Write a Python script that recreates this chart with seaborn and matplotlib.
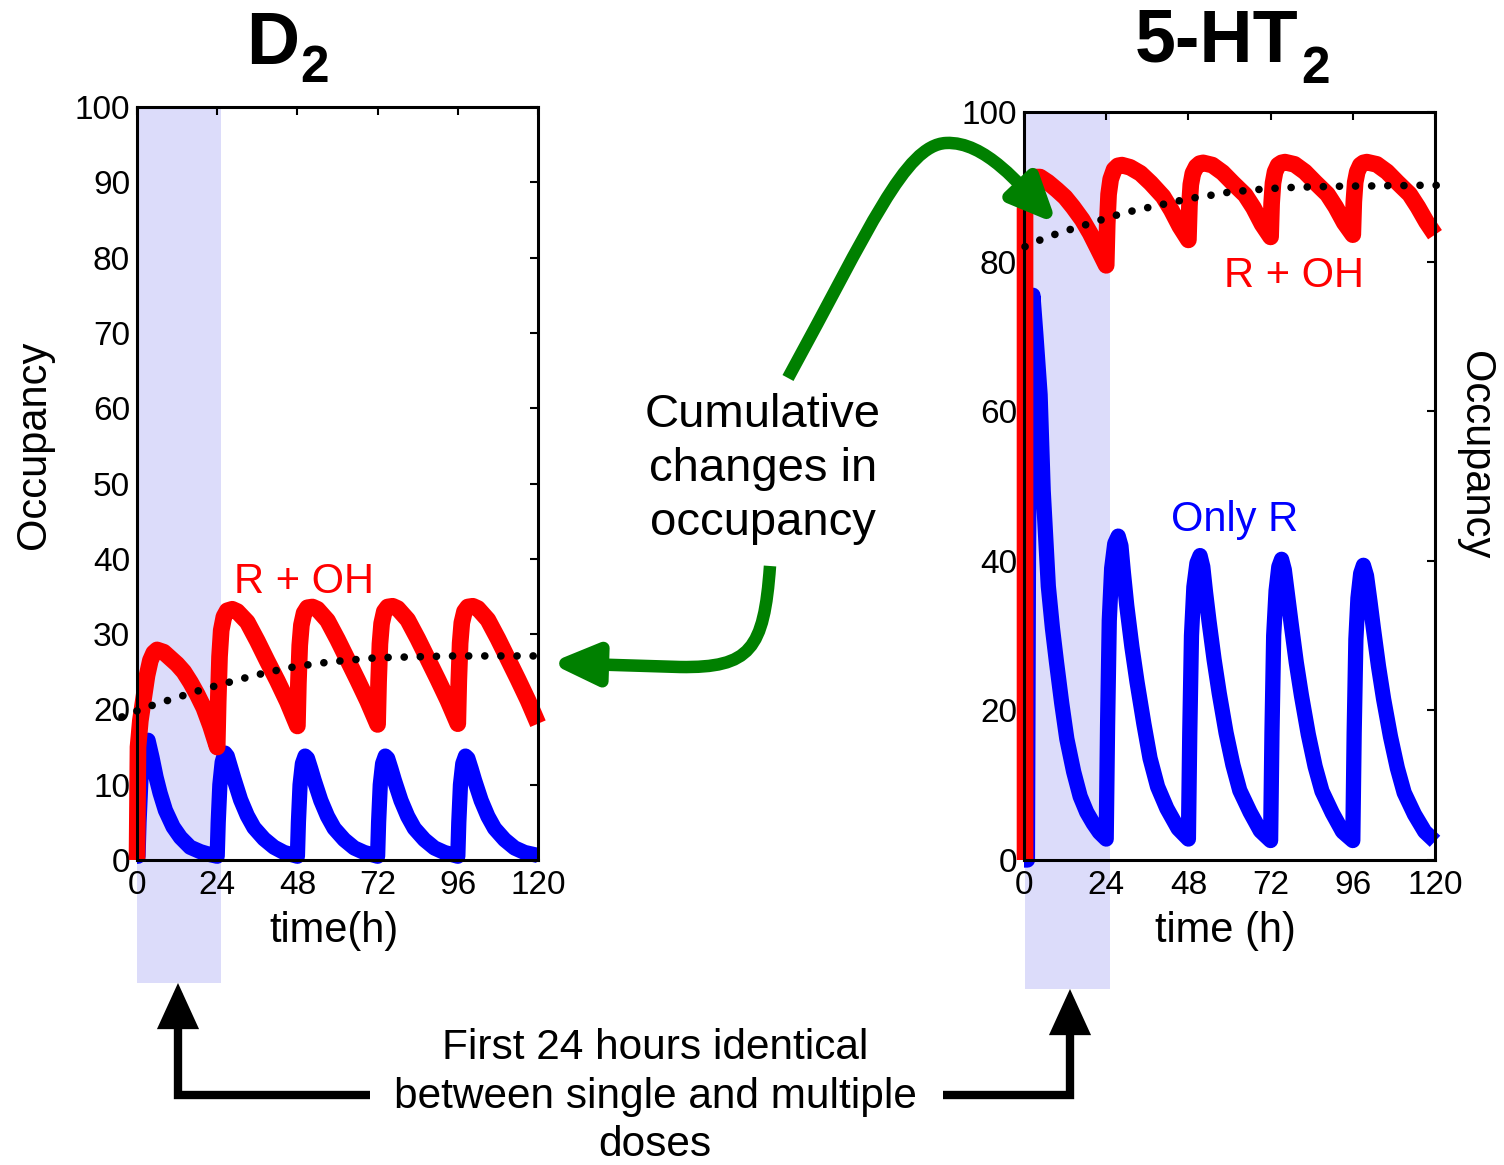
import numpy as np
import pandas as pd
import matplotlib
matplotlib.use('Agg')
import matplotlib.pyplot as plt
import seaborn as sns
from matplotlib.patches import FancyArrowPatch
from matplotlib.path import Path

sns.set_theme(style="white")
plt.rcParams['font.family'] = ['Liberation Sans', 'DejaVu Sans']
plt.rcParams['text.color'] = 'black'
plt.rcParams['axes.labelcolor'] = 'black'
plt.rcParams['xtick.color'] = 'black'
plt.rcParams['ytick.color'] = 'black'

W, H = 1504, 1165

# ── Data ───────────────────────────────────────────────────────
time_ticks = [0, 24, 48, 72, 96, 120]
d2_yticks = [0, 10, 20, 30, 40, 50, 60, 70, 80, 90, 100]
ht2_yticks = [0, 20, 40, 60, 80, 100]

# D2, R + OH
d2_red_t = [0, 0.3, 1, 2, 3, 4, 5, 6, 8, 10, 12, 14, 16, 18, 20, 22, 24,
            24.3, 24.7, 25.2, 26, 27, 28.5, 30, 33, 36, 39, 42, 45, 48,
            48.3, 48.7, 49.2, 50, 51, 52.5, 54, 57, 60, 63, 66, 69, 72,
            72.3, 72.7, 73.2, 74, 75, 76.5, 78, 81, 84, 87, 90, 93, 96,
            96.3, 96.7, 97.2, 98, 99, 100.5, 102, 105, 108, 111, 114, 117, 120]
d2_red_v = [0, 15, 18.5, 21.5, 24.5, 26.5, 27.5, 27.9, 27.6, 26.8, 26, 25, 23.6, 22, 20.2, 17.8, 15.0,
            21, 27, 30.5, 32.3, 33.1, 33.3, 33.0, 31.6, 29.1, 26.4, 23.8, 21.0, 17.8,
            23.5, 28.5, 31.2, 32.8, 33.5, 33.6, 33.3, 31.8, 29.3, 26.6, 23.9, 21.1, 18.0,
            23.7, 28.7, 31.4, 33.0, 33.6, 33.7, 33.4, 31.9, 29.4, 26.7, 24.0, 21.2, 18.1,
            23.8, 28.8, 31.5, 33.0, 33.6, 33.7, 33.4, 31.9, 29.4, 26.7, 24.0, 21.2, 18.1]

# D2, only R
d2_blue_t = [0, 0.3, 0.6, 1.2, 2, 3.3, 4.5, 5.7, 6.9, 8.5, 10.8, 13, 15.9, 19, 22, 24,
             24.3, 24.8, 25.5, 26.3, 27, 28, 29, 31, 33, 35, 38, 41, 44, 48,
             48.3, 48.8, 49.5, 50.3, 51, 52, 53, 55, 57, 59, 62, 65, 68, 72,
             72.3, 72.8, 73.5, 74.3, 75, 76, 77, 79, 81, 83, 86, 89, 92, 96,
             96.3, 96.8, 97.5, 98.3, 99, 100, 101, 103, 105, 107, 110, 113, 116, 120]
d2_blue_v = [0.5, 0.5, 5, 11, 14.5, 15.9, 13.6, 11, 8.9, 6.6, 4.4, 3.0, 1.7, 1.1, 0.7, 0.5,
             5, 10, 13, 14.2, 13.8, 12.3, 10.8, 8.0, 5.9, 4.3, 2.8, 1.7, 1.0, 0.5,
             5, 10, 12.8, 13.8, 13.5, 12.1, 10.6, 7.9, 5.8, 4.2, 2.7, 1.6, 1.0, 0.5,
             5, 10, 12.8, 13.8, 13.5, 12.1, 10.6, 7.9, 5.8, 4.2, 2.7, 1.6, 1.0, 0.5,
             5, 10, 12.8, 13.8, 13.5, 12.1, 10.6, 7.9, 5.8, 4.2, 2.7, 1.6, 1.0, 0.6]

# D2, cumulative trend (dotted)
d2_trend_t = [-4.5, 0, 5, 10, 15, 20, 25, 30, 35, 40, 45, 50, 55, 60, 65,
              70, 75, 80, 85, 90, 95, 100, 105, 110, 115, 120.5]
d2_trend_v = [19.0, 19.8, 20.6, 21.3, 22.0, 22.7, 23.3, 23.9, 24.5, 25.0, 25.5, 25.85, 26.15, 26.4, 26.6,
              26.8, 26.9, 26.95, 27.0, 27.05, 27.1, 27.1, 27.1, 27.1, 27.1, 27.1]

# 5-HT2, R + OH
ht2_red_t = [0.3, 0.3, 1, 1.75, 3, 4.7, 7, 9.6, 12, 14.3, 17, 19.3, 21.5, 24,
             24.3, 24.7, 25.3, 26.3, 27.4, 28.6, 31, 34, 37, 40.6, 43, 45.5, 48,
             48.3, 48.7, 49.3, 50.3, 51.3, 52.3, 55, 58, 61, 64.6, 67, 69.5, 72,
             72.3, 72.7, 73.3, 74.2, 75.2, 76.2, 79, 82, 85, 88.6, 91, 93.5, 96,
             96.3, 96.7, 97.3, 98.2, 99.1, 100.1, 103, 106, 109, 112.6, 115, 117.5, 120]
ht2_red_v = [0, 87, 89.5, 90.9, 91.3, 91.3, 90.6, 89.6, 88.6, 87.3, 85.6, 83.8, 81.8, 79.5,
             85, 89, 91, 92.3, 92.8, 92.9, 92.6, 91.8, 90.5, 88.7, 86.9, 84.7, 82.9,
             87.5, 90.3, 91.8, 92.7, 93.1, 93.2, 92.9, 91.9, 90.5, 88.9, 87.2, 85.0, 83.3,
             87.8, 90.5, 92.0, 92.9, 93.2, 93.3, 93.0, 92.0, 90.6, 89.0, 87.3, 85.2, 83.6,
             88.0, 90.6, 92.0, 92.9, 93.2, 93.3, 93.0, 92.0, 90.6, 89.0, 87.3, 85.3, 83.6]

# 5-HT2, only R
ht2_blue_t = [0, 1.0, 1.3, 1.8, 2.6, 3.5, 4.7, 5.6, 7.1, 8.3, 9.5, 11, 12.5, 14.5, 16.4, 18.3, 20.2, 22, 24,
              24.4, 24.9, 25.6, 26.5, 27.5, 28.3, 29, 30, 31.5, 33, 35, 36.8, 39, 41.7, 45, 48,
              48.4, 48.9, 49.6, 50.5, 51.4, 52.2, 53, 54, 55.5, 57, 59, 61, 63, 66, 69, 72,
              72.4, 72.9, 73.6, 74.4, 75.2, 76, 77, 78, 79.5, 81, 83, 85, 87, 90, 93, 96,
              96.4, 96.9, 97.5, 98.3, 99.1, 100, 101, 102, 103.5, 105, 107, 109, 111, 114, 117, 120]
ht2_blue_v = [0, 0, 40, 70, 75.5, 70, 62.2, 49.4, 36.6, 31, 26.4, 21, 16.2, 11.8, 8.5, 6.4, 4.9, 3.7, 2.8,
              18, 32, 39, 42.3, 43.3, 42, 38.5, 34, 28.5, 23.8, 18.2, 13.6, 9.8, 6.9, 4.2, 2.8,
              17, 30, 36.5, 39.7, 40.7, 39.2, 35.8, 32, 26.8, 22.3, 17.0, 12.7, 9.3, 6.4, 3.9, 2.6,
              17, 30, 36, 39.2, 40.2, 38.8, 35.2, 31.6, 26.4, 22.0, 16.8, 12.5, 9.2, 6.3, 3.8, 2.6,
              17, 29.5, 35, 38.3, 39.4, 38, 34.6, 31, 25.9, 21.5, 16.5, 12.3, 9.0, 6.1, 3.8, 2.5]

# 5-HT2, cumulative trend (dotted)
ht2_trend_t = [0.3, 5, 10, 15, 20, 25, 30, 35, 40, 45, 50, 55, 60, 65, 70,
               75, 80, 85, 90, 95, 100, 105, 110, 115, 121.5]
ht2_trend_v = [82.0, 82.95, 83.8, 84.5, 85.2, 85.95, 86.6, 87.1, 87.6, 88.1, 88.55, 88.9, 89.3, 89.5, 89.7,
               89.85, 89.95, 90.0, 90.05, 90.1, 90.1, 90.15, 90.15, 90.2, 90.2]

RED, BLUE, GREEN, SHADE = '#ff0000', '#0000ff', '#008000', '#dcdcfa'


def fx(x):
    return x / W


def fy(y):
    return 1 - y / H


fig = plt.figure(figsize=(W / 100, H / 100), dpi=100)
ax1 = fig.add_axes([fx(137), fy(860), 401 / W, 753 / H])
ax2 = fig.add_axes([fx(1024), fy(860), 411 / W, 748 / H])

line_kw = dict(estimator=None, sort=False, clip_on=False,
               solid_joinstyle='round', solid_capstyle='butt')
dot_kw = dict(estimator=None, sort=False, clip_on=False, color='black', linewidth=5.5,
              linestyle=(0, (0.01, 2.1)), dash_capstyle='round', zorder=3)

# ── D2 panel ──
ax1.axvspan(0, 25, ymin=-(983 - 860) / 753, ymax=1, color=SHADE, lw=0, zorder=0.5, clip_on=False)
sns.lineplot(x=d2_blue_t, y=d2_blue_v, ax=ax1, color=BLUE, linewidth=11, **line_kw)
sns.lineplot(x=d2_red_t, y=d2_red_v, ax=ax1, color=RED, linewidth=12, **line_kw)
sns.lineplot(x=d2_trend_t, y=d2_trend_v, ax=ax1, **dot_kw)
ax1.text(29, 35.5, 'R + OH', color=RED, fontsize=30, va='baseline')

# ── 5-HT2 panel ──
ax2.axvspan(0.3, 25.1, ymin=-(989 - 860) / 748, ymax=1, color=SHADE, lw=0, zorder=0.5, clip_on=False)
sns.lineplot(x=ht2_blue_t, y=ht2_blue_v, ax=ax2, color=BLUE, linewidth=11, **line_kw)
sns.lineplot(x=ht2_red_t, y=ht2_red_v, ax=ax2, color=RED, linewidth=12, **line_kw)
sns.lineplot(x=ht2_trend_t, y=ht2_trend_v, ax=ax2, **dot_kw)
ax2.text(58.3, 76.6, 'R + OH', color=RED, fontsize=30, va='baseline')
ax2.text(42.8, 44.0, 'Only R', color=BLUE, fontsize=30, va='baseline')

for ax, yt in [(ax1, d2_yticks), (ax2, ht2_yticks)]:
    ax.set_xlim(0, 120)
    ax.set_ylim(0, 100)
    ax.set_xticks(time_ticks)
    ax.set_yticks(yt)
    ax.set_xlabel('')
    ax.set_ylabel('')
    ax.tick_params(direction='in', length=6, width=1.5, labelsize=24,
                   top=True, right=True, colors='black')
    ax.tick_params(axis='x', pad=7)
    ax.tick_params(axis='y', pad=5)
    for s in ax.spines.values():
        s.set_linewidth(2.2)
        s.set_color('black')
        s.set_visible(True)
    ax.grid(False)

# axis labels
fig.text(fx(334), fy(942), 'time(h)', fontsize=30, ha='center', va='baseline')
fig.text(fx(1225), fy(942), 'time (h)', fontsize=30, ha='center', va='baseline')
fig.text(fx(34), fy(445), 'Occupancy', fontsize=30, rotation=90, ha='center', va='center')
fig.text(fx(1475), fy(455), 'Occupancy', fontsize=30, rotation=270, ha='center', va='center')

# panel titles with subscripts
fig.text(fx(246), fy(64), 'D', fontsize=53, fontweight='bold', ha='left', va='baseline')
fig.text(fx(300), fy(82), '2', fontsize=37, fontweight='bold', ha='left', va='baseline')
fig.text(fx(1135), fy(62), '5-HT', fontsize=53, fontweight='bold', ha='left', va='baseline')
fig.text(fx(1301), fy(83), '2', fontsize=37, fontweight='bold', ha='left', va='baseline')

# annotations
fig.text(fx(763), fy(469), 'Cumulative\nchanges in\noccupancy', fontsize=34,
         ha='center', va='center', multialignment='center', linespacing=1.28)
fig.text(fx(655), fy(1156), 'First 24 hours identical\nbetween single and multiple\ndoses',
         fontsize=30.5, ha='center', va='baseline', multialignment='center', linespacing=1.27)


def add_arrow(verts, codes, color, lw, hl, hw, join='round'):
    pts = [(fx(x), fy(y)) for x, y in verts]
    arr = FancyArrowPatch(path=Path(pts, codes), transform=fig.transFigure,
                          arrowstyle=f'-|>,head_length={hl},head_width={hw}',
                          mutation_scale=1, color=color, lw=lw,
                          joinstyle=join, capstyle='butt')
    fig.add_artist(arr)


C4, L2, M = Path.CURVE4, Path.LINETO, Path.MOVETO
# green arrow to 5-HT2 panel
add_arrow([(788, 378), (870, 228), (905, 145), (946, 143), (985, 141), (1020, 185), (1057, 224)],
          [M, C4, C4, C4, C4, C4, C4], GREEN, 9, 27, 12)
# green arrow to D2 panel
add_arrow([(770, 566), (764, 650), (750, 668), (680, 667), (550, 663)],
          [M, C4, C4, C4, L2], GREEN, 9, 27, 12)
# black arrows to the shaded first 24 h
add_arrow([(370, 1095), (178, 1095), (178, 983)], [M, L2, L2], 'black', 6, 23, 10.5, 'miter')
add_arrow([(943, 1095), (1070, 1095), (1070, 989)], [M, L2, L2], 'black', 6, 23, 10.5, 'miter')

plt.savefig('out.png', dpi=100)
